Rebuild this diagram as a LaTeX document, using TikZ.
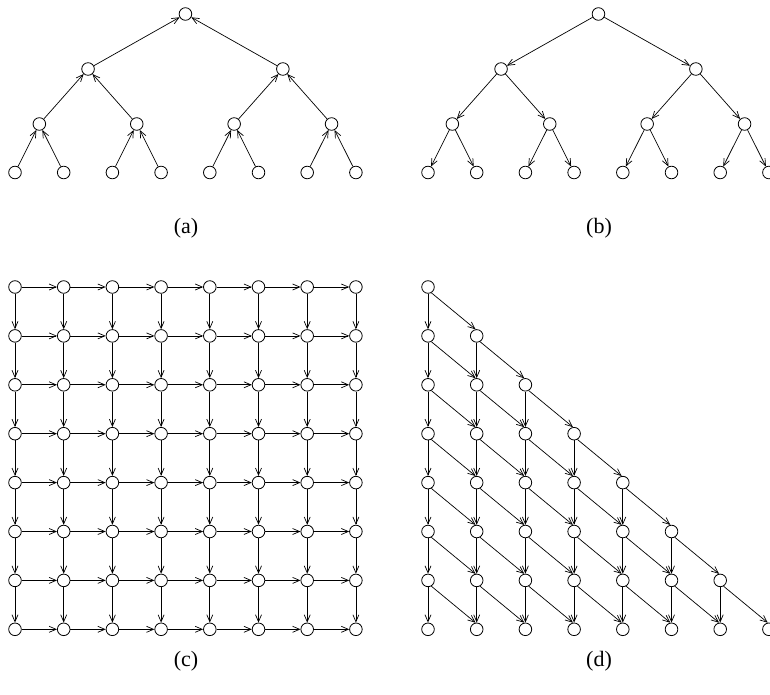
\documentclass[tikz,border=0pt]{standalone}
\usepackage{fontspec}
\setmainfont{Liberation Serif}
\usetikzlibrary{arrows.meta}
\begin{document}
\begin{tikzpicture}[x=1pt,y=-1pt,
  vtx/.style={circle,draw,line width=0.8pt,minimum size=12.6pt,inner sep=0pt},
  edge/.style={line width=0.7pt,-{Straight Barb[length=7pt,width=6pt]}},
  lbl/.style={font=\fontsize{22}{26}\selectfont,inner sep=0pt}]
\useasboundingbox (0,0) rectangle (770,695);
% trees
\foreach \t/\off in {a/0,b/413} {
  \foreach \i in {0,...,7} {\node[vtx] (\t L3-\i) at ({\off+15+48.7*\i},172.5) {};}
  \foreach \i in {0,...,3} {\node[vtx] (\t L2-\i) at ({\off+15+48.7*(2*\i+0.5)},124) {};}
  \foreach \i in {0,1} {\node[vtx] (\t L1-\i) at ({\off+15+48.7*(4*\i+1.5)},69) {};}
  \node[vtx] (\t L0-0) at ({\off+15+48.7*3.5},14) {};
}
% tree (a): arrows toward the parent, tree (b): toward the children
\foreach \i in {0,...,7} {
  \pgfmathtruncatemacro{\p}{\i/2}
  \draw[edge] (aL3-\i) -- (aL2-\p);
  \draw[edge] (bL2-\p) -- (bL3-\i);
}
\foreach \i in {0,...,3} {
  \pgfmathtruncatemacro{\p}{\i/2}
  \draw[edge] (aL2-\i) -- (aL1-\p);
  \draw[edge] (bL1-\p) -- (bL2-\i);
}
\foreach \i in {0,1} {
  \draw[edge] (aL1-\i) -- (aL0-0);
  \draw[edge] (bL0-0) -- (bL1-\i);
}
% grid (c)
\foreach \i in {0,...,7} {
  \foreach \j in {0,...,7} {
    \node[vtx] (c-\i-\j) at ({15+48.7*\i},{287+48.9*\j}) {};
  }
}
\foreach \i in {0,...,7} {
  \foreach \j in {0,...,7} {
    \pgfmathtruncatemacro{\n}{\i+1}
    \pgfmathtruncatemacro{\m}{\j+1}
    \ifnum\i<7 \draw[edge] (c-\i-\j) -- (c-\n-\j); \fi
    \ifnum\j<7 \draw[edge] (c-\i-\j) -- (c-\i-\m); \fi
  }
}
% triangle (d)
\foreach \i in {0,...,7} {
  \foreach \j in {\i,...,7} {
    \node[vtx] (d-\i-\j) at ({428+48.7*\i},{287+48.9*\j}) {};
  }
}
\foreach \i in {0,...,6} {
  \foreach \j in {\i,...,6} {
    \pgfmathtruncatemacro{\n}{\i+1}
    \pgfmathtruncatemacro{\m}{\j+1}
    \draw[edge] (d-\i-\j) -- (d-\i-\m);
    \draw[edge] (d-\i-\j.-60) -- (d-\n-\m.100);
  }
}
% labels
\node[lbl] (la) at (186,228) {(a)};
\node[lbl] (lb) at (599,228) {(b)};
\node[lbl] (lc) at (186,661) {(c)};
\node[lbl] (ld) at (599,661) {(d)};
\end{tikzpicture}
\end{document}
